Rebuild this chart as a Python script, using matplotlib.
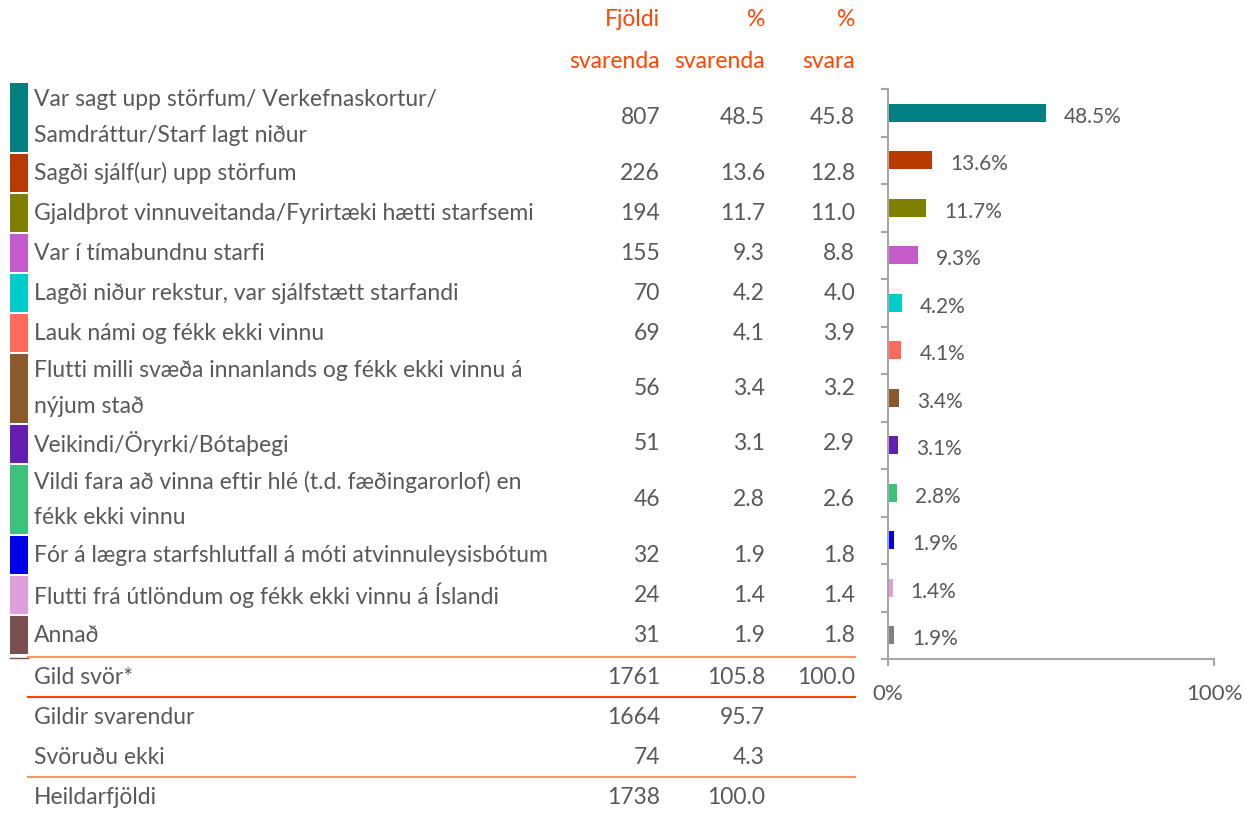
import matplotlib
matplotlib.use('Agg')
import matplotlib.pyplot as plt
from matplotlib.patches import Rectangle
import numpy as np

plt.rcParams['font.family'] = ['Lato', 'DejaVu Sans']

categories = [
    "Var sagt upp störfum/ Verkefnaskortur/\nSamdráttur/Starf lagt niður",
    "Sagði sjálf(ur) upp störfum",
    "Gjaldþrot vinnuveitanda/Fyrirtæki hætti starfsemi",
    "Var í tímabundnu starfi",
    "Lagði niður rekstur, var sjálfstætt starfandi",
    "Lauk námi og fékk ekki vinnu",
    "Flutti milli svæða innanlands og fékk ekki vinnu á\nnýjum stað",
    "Veikindi/Öryrki/Bótaþegi",
    "Vildi fara að vinna eftir hlé (t.d. fæðingarorlof) en\nfékk ekki vinnu",
    "Fór á lægra starfshlutfall á móti atvinnuleysisbótum",
    "Flutti frá útlöndum og fékk ekki vinnu á Íslandi",
    "Annað",
]
counts = [807, 226, 194, 155, 70, 69, 56, 51, 46, 32, 24, 31]
pct_respondents = [48.5, 13.6, 11.7, 9.3, 4.2, 4.1, 3.4, 3.1, 2.8, 1.9, 1.4, 1.9]
pct_answers = [45.8, 12.8, 11.0, 8.8, 4.0, 3.9, 3.2, 2.9, 2.6, 1.8, 1.4, 1.8]
bar_colors = ['#008080', '#B83A00', '#808000', '#C45BCB', '#00CCCC', '#FF6A5A',
              '#8B5A2B', '#651FB0', '#3CC27A', '#0000E6', '#DDA0DD', '#808080']
swatch_colors = bar_colors[:-1] + ['#7B4F4F']

headers = [("Fjöldi", "svarenda"), ("%", "svarenda"), ("%", "svara")]
summary_labels = ["Gild svör*", "Gildir svarendur", "Svöruðu ekki", "Heildarfjöldi"]
summary_counts = ["1761", "1664", "74", "1738"]
summary_pct_resp = ["105.8", "95.7", "4.3", "100.0"]
summary_pct_ans = ["100.0", "", "", ""]

W, H = 1247, 814
TXT = '#595959'
HDR = '#FF4500'
LIGHT = '#F9956A'
FS = 16.5

fig = plt.figure(figsize=(W / 100, H / 100), dpi=100)
ax = fig.add_axes([0, 0, 1, 1])
ax.set_xlim(0, W)
ax.set_ylim(H, 0)
ax.axis('off')

col_x = [660, 765, 855]
for x, (h1, h2) in zip(col_x, headers):
    ax.text(x, 20, h1, ha='right', va='center', color=HDR, fontsize=FS)
    ax.text(x, 61, h2, ha='right', va='center', color=HDR, fontsize=FS)

top = 83
for i, cat in enumerate(categories):
    lines = cat.split('\n')
    h = 40 + 31 * (len(lines) - 1)
    ax.add_patch(Rectangle((10, top), 18, h - 2, color=swatch_colors[i], lw=0))
    c = top + h / 2 - 1
    if len(lines) == 1:
        ax.text(34, c, lines[0], ha='left', va='center', color=TXT, fontsize=FS)
    else:
        for k, ln in enumerate(lines):
            ax.text(34, c - 18 + 36 * k, ln, ha='left', va='center', color=TXT, fontsize=FS)
    vals = [str(counts[i]), f"{pct_respondents[i]:.1f}", f"{pct_answers[i]:.1f}"]
    for x, v in zip(col_x, vals):
        ax.text(x, c, v, ha='right', va='center', color=TXT, fontsize=FS)
    top += h

ax.plot([10, 28], [658, 658], color='#7B4F4F', lw=1)
for i, lab in enumerate(summary_labels):
    y = 677 + 40 * i
    ax.text(34, y, lab, ha='left', va='center', color=TXT, fontsize=FS)
    for x, v in zip(col_x, [summary_counts[i], summary_pct_resp[i], summary_pct_ans[i]]):
        ax.text(x, y, v, ha='right', va='center', color=TXT, fontsize=FS)

ax.plot([28, 855], [657, 657], color=LIGHT, lw=1.5)
ax.plot([28, 855], [697, 697], color=HDR, lw=1.5)
ax.plot([28, 855], [777, 777], color=LIGHT, lw=1.5)

# bar chart
axb = fig.add_axes([888 / W, (H - 659) / H, (1214 - 888) / W, 570 / H])
y = np.arange(len(categories))
axb.barh(y, pct_respondents, height=0.38, color=bar_colors)
axb.set_xlim(0, 100)
axb.set_ylim(len(categories) - 0.5, -0.5)
for s in ['top', 'right']:
    axb.spines[s].set_visible(False)
for s in ['left', 'bottom']:
    axb.spines[s].set_color('#A6A6A6')
    axb.spines[s].set_linewidth(1.5)
axb.set_yticks(np.arange(-0.5, len(categories), 1))
axb.set_yticklabels([])
axb.tick_params(axis='y', length=5, width=1.5, color='#A6A6A6')
axb.set_xticks([0, 100])
axb.set_xticklabels(['0%', '100%'])
axb.tick_params(axis='x', length=5, width=1.5, color='#A6A6A6', pad=13,
                labelcolor=TXT, labelsize=16)
axb.patch.set_alpha(0)
for i, v in enumerate(pct_respondents):
    axb.annotate(f"{v}%", (v, i), xytext=(13, -3), textcoords='offset points',
                 ha='left', va='center', color=TXT, fontsize=15)

fig.savefig('out.png', dpi=100)
